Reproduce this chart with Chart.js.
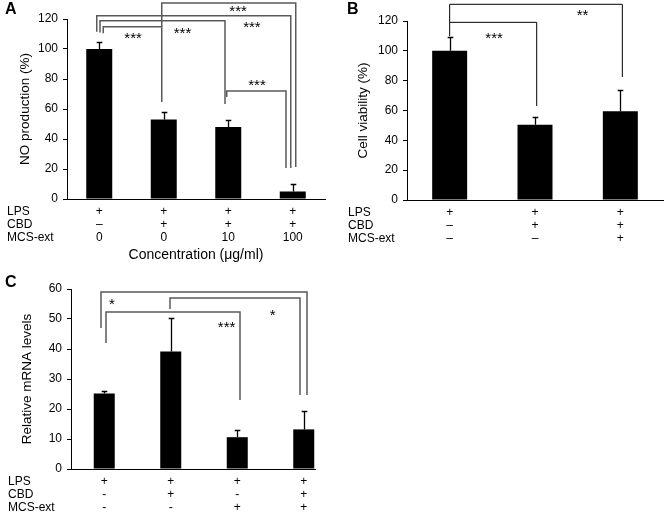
<!DOCTYPE html>
<html><head><meta charset="utf-8">
<script src="https://cdn.jsdelivr.net/npm/chart.js@4.4.0/dist/chart.umd.min.js"></script>
<style>
html,body{margin:0;padding:0;background:#fff;}
body{width:669px;height:515px;position:relative;overflow:hidden;}
.panel{position:absolute;overflow:hidden;}
canvas{display:block;}
</style></head><body>
<div class="panel" style="left:0;top:0;width:330px;height:270px"><canvas id="cA" width="330" height="270" style="width:330px;height:270px"></canvas></div>
<div class="panel" style="left:330px;top:0;width:339px;height:270px"><canvas id="cB" width="339" height="270" style="width:339px;height:270px"></canvas></div>
<div class="panel" style="left:0;top:270px;width:316px;height:245px"><canvas id="cC" width="340" height="245" style="width:340px;height:245px"></canvas></div>
<script>
// ---------- Data ----------
const rowNames = ['LPS', 'CBD', 'MCS-ext'];

// Panel A
const lpsA = ['+', '+', '+', '+'];
const cbdA = ['–', '+', '+', '+'];
const mcsA = ['0', '0', '10', '100'];
const noProduction = [100, 53, 48, 5];
const noProductionErr = [5, 5, 5, 5];
const yTicksA = [0, 20, 40, 60, 80, 100, 120];
const sigA = [[0, 1, '***'], [0, 2, '***'], [0, 3, '***'], [1, 3, '***'], [2, 3, '***']];

// Panel B
const lpsB = ['+', '+', '+'];
const cbdB = ['–', '+', '+'];
const mcsB = ['–', '–', '+'];
const cellViability = [100, 50.5, 59.5];
const cellViabilityErr = [9, 5.2, 14];
const yTicksB = [0, 20, 40, 60, 80, 100, 120];
const sigB = [[0, 1, '***'], [0, 2, '**']];

// Panel C
const lpsC = ['+', '+', '+', '+'];
const cbdC = ['-', '+', '-', '+'];
const mcsC = ['-', '-', '+', '+'];
const mrnaLevels = [25.2, 39.2, 10.6, 13.2];
const mrnaLevelsErr = [0.8, 11.3, 2.4, 6.2];
const yTicksC = [0, 10, 20, 30, 40, 50, 60];
const sigC = [[0, 3, '*'], [1, 3, '*'], [0, 2, '***']];

// ---------- Annotation layout (bracket geometry in axis units / px offsets) ----------
const bracketLayoutA = [
  {offL: 4,    offR: -2,    level: 114.9, leftEnd: 110.5, rightEnd: 64.7, labelAt: 0.51, labelY: 109.3},
  {offL: 0.75, offR: -3.25, level: 118.9, leftEnd: 111,   rightEnd: 63.3, labelAt: 0.66, labelY: 112.7},
  {offL: -2.5, offR: -2,    level: 122.2, leftEnd: 111.5, rightEnd: 20.7, labelAt: 0.80, labelY: 116.7},
  {offL: -2,   offR: 3,     level: 130.7, leftEnd: 114.9, rightEnd: 21.3, labelAt: 0.57, labelY: 127.3},
  {offL: -1.5, offR: -6.75, level: 72,    leftEnd: 68,    rightEnd: 20.7, labelAt: 0.51, labelY: 78}
];
const bracketLayoutB = [
  {offL: 0, offR: 1.7, level: 119.1, leftEnd: 110,   rightEnd: 63,   labelAt: 0.51, labelY: 110.6},
  {offL: 0, offR: 2,   level: 131.2, leftEnd: 119.1, rightEnd: 82.5, labelAt: 0.77, labelY: 126}
];
const bracketLayoutC = [
  {offL: -3.25, offR: 3.25,  level: 59,   leftEnd: 47,   rightEnd: 24.7, labelAt: 0.053, labelY: 56},
  {offL: -0.75, offR: -3.75, level: 57,   leftEnd: 53.3, rightEnd: 24.7, labelAt: 0.79,  labelY: 52.3},
  {offL: 1.75,  offR: 2.75,  level: 52.3, leftEnd: 42,   rightEnd: 23,   labelAt: 0.90,  labelY: 48.3}
];

const FONT = "'Liberation Sans', Arial, Helvetica, sans-serif";
const ROW_PAD = 6.5, ROW_LH = 13;
Chart.defaults.font.family = FONT;
Chart.defaults.color = '#000';

function extrasPlugin(opt) {
  return {
    id: 'extras' + opt.letter,
    afterDraw(chart) {
      const ctx = chart.ctx;
      const x = chart.scales.x, y = chart.scales.y;
      ctx.save();
      // error bars (upper only, Excel style)
      ctx.strokeStyle = '#000';
      ctx.lineWidth = 1.3;
      opt.values.forEach((v, i) => {
        const px = Math.round(x.getPixelForValue(i)) + 0.5;
        const y0 = y.getPixelForValue(v);
        const y1 = Math.round(y.getPixelForValue(v + opt.errors[i])) + 0.5;
        ctx.beginPath();
        ctx.moveTo(px, y0); ctx.lineTo(px, y1);
        ctx.moveTo(px - 2.8, y1); ctx.lineTo(px + 2.8, y1);
        ctx.stroke();
      });
      // significance brackets
      ctx.strokeStyle = opt.bracketColor;
      ctx.lineWidth = opt.bracketWidth;
      opt.sig.forEach((s, k) => {
        const L = opt.layout[k];
        const xl = x.getPixelForValue(s[0]) + L.offL;
        const xr = x.getPixelForValue(s[1]) + L.offR;
        const yh = y.getPixelForValue(L.level);
        ctx.beginPath();
        ctx.moveTo(xl, y.getPixelForValue(L.leftEnd));
        ctx.lineTo(xl, yh);
        ctx.lineTo(xr, yh);
        ctx.lineTo(xr, y.getPixelForValue(L.rightEnd));
        ctx.stroke();
        ctx.fillStyle = '#000';
        ctx.font = '15px ' + FONT;
        ctx.textAlign = 'center';
        ctx.textBaseline = 'alphabetic';
        ctx.fillText(s[2], xl + (xr - xl) * L.labelAt, y.getPixelForValue(L.labelY) + 8);
      });
      // row names
      ctx.fillStyle = '#000';
      ctx.font = '12px ' + FONT;
      ctx.textAlign = 'left';
      ctx.textBaseline = 'middle';
      rowNames.forEach((n, i) => ctx.fillText(n, opt.rowNameX, x.top + ROW_PAD + ROW_LH / 2 + i * ROW_LH));
      // panel letter
      ctx.font = 'bold 16px ' + FONT;
      ctx.textBaseline = 'alphabetic';
      ctx.fillText(opt.letter, opt.letterX, opt.letterY);
      ctx.restore();
    }
  };
}

function buildChart(id, opt) {
  const labels = opt.rows[0].map((_, i) => opt.rows.map(r => r[i]));
  return new Chart(document.getElementById(id), {
    type: 'bar',
    data: {
      labels,
      datasets: [{
        data: opt.values,
        backgroundColor: '#000',
        borderWidth: 0,
        barPercentage: opt.barPct,
        categoryPercentage: 1
      }]
    },
    options: {
      responsive: false,
      animation: false,
      events: [],
      layout: {padding: opt.padding},
      plugins: {legend: {display: false}, tooltip: {enabled: false}},
      scales: {
        x: {
          grid: {display: false, drawTicks: false},
          border: {display: true, color: '#000', width: 1},
          ticks: {color: '#000', font: {family: FONT, size: 12, lineHeight: ROW_LH + 'px'}, padding: ROW_PAD, maxRotation: 0, autoSkip: false},
          title: opt.xTitle ? {display: true, text: opt.xTitle, color: '#000', font: {family: FONT, size: 14}, padding: {top: 0, bottom: 6.6}} : {display: false},
          afterFit: s => { s.height = opt.xHeight; }
        },
        y: {
          min: opt.yTicks[0],
          max: opt.yTicks[opt.yTicks.length - 1],
          afterBuildTicks: s => { s.ticks = opt.yTicks.map(v => ({value: v})); },
          ticks: {color: '#000', font: {family: FONT, size: 12}, padding: 5},
          grid: {display: true, drawOnChartArea: false, drawTicks: true, tickLength: 4, color: '#000', lineWidth: 1},
          border: {display: true, color: '#000', width: 1},
          title: {display: true, text: opt.yTitle, color: '#000', font: {family: FONT, size: 13.5}, padding: {top: 4, bottom: 4}},
          afterFit: s => { s.width = opt.yWidth; }
        }
      }
    },
    plugins: [extrasPlugin(opt)]
  });
}

buildChart('cA', {
  letter: 'A', letterX: 5, letterY: 14, rowNameX: 7,
  rows: [lpsA, cbdA, mcsA], values: noProduction, errors: noProductionErr,
  yTicks: yTicksA, yTitle: 'NO production (%)', xTitle: 'Concentration (μg/ml)',
  sig: sigA, layout: bracketLayoutA, bracketColor: '#5a5a5a', bracketWidth: 1.5,
  padding: {left: 13, top: 19, right: 5, bottom: 0}, yWidth: 54, xHeight: 71, barPct: 0.403
});
buildChart('cB', {
  letter: 'B', letterX: 17, letterY: 14, rowNameX: 18,
  rows: [lpsB, cbdB, mcsB], values: cellViability, errors: cellViabilityErr,
  yTicks: yTicksB, yTitle: 'Cell viability (%)', xTitle: null,
  sig: sigB, layout: bracketLayoutB, bracketColor: '#000', bracketWidth: 1,
  padding: {left: 21, top: 21, right: 6, bottom: 0}, yWidth: 56, xHeight: 70, barPct: 0.41
});
buildChart('cC', {
  letter: 'C', letterX: 5, letterY: 17, rowNameX: 8,
  rows: [lpsC, cbdC, mcsC], values: mrnaLevels, errors: mrnaLevelsErr,
  yTicks: yTicksC, yTitle: 'Relative mRNA levels', xTitle: null,
  sig: sigC, layout: bracketLayoutC, bracketColor: '#5a5a5a', bracketWidth: 1.5,
  padding: {left: 15, top: 19, right: 3, bottom: 0}, yWidth: 56, xHeight: 46, barPct: 0.316
});
</script>
</body></html>
